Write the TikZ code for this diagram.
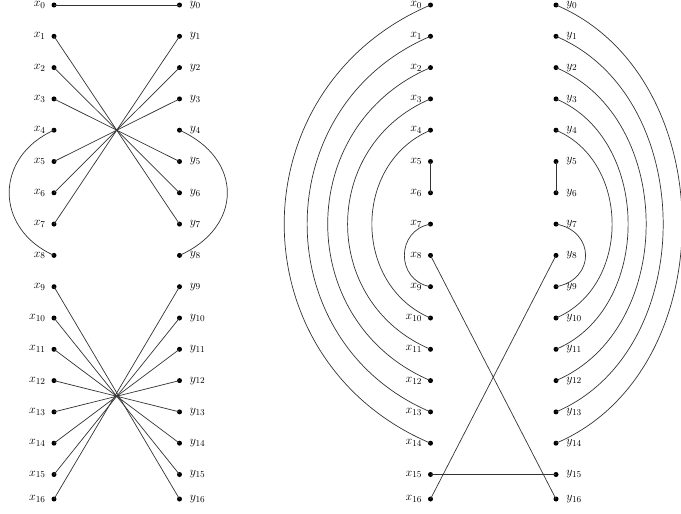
\documentclass[tikz,border=0pt]{standalone}
\begin{document}
\begin{tikzpicture}[x=1pt,y=-1pt,
  dot/.style={circle,fill=black,inner sep=0pt,minimum size=5pt},
  edge/.style={draw=black!80,line width=0.7pt},
  lbl/.style={font=\fontsize{13}{15}\selectfont,inner sep=2pt}]
\useasboundingbox (0,0) rectangle (681,514);

\foreach \i/\yy in {0/5,1/36.3,2/67.6,3/98.9,4/130.2,5/161.5,6/192.8,7/224.1,8/255.4,9/286.7,10/318,11/349.3,12/380.6,13/411.9,14/443.2,15/474.5,16/499}{
  \node[dot,label={[lbl,label distance=3.5pt]left:$x_{\i}$}] (lx\i) at (54,\yy) {};
  \node[dot,label={[lbl,label distance=5.5pt]right:$y_{\i}$}] (ly\i) at (179.5,\yy) {};
  \node[dot,label={[lbl,label distance=3.5pt]left:$x_{\i}$}] (rx\i) at (430.5,\yy) {};
  \node[dot,label={[lbl,label distance=5.5pt]right:$y_{\i}$}] (ry\i) at (556,\yy) {};
}

% left panel, top
\draw[edge] (lx0.center) -- (ly0.center);
\foreach \i/\j in {1/7,2/6,3/5,5/3,6/2,7/1}
  \draw[edge] (lx\i.center) -- (ly\j.center);
\draw[edge] (lx4.center) to[out=204,in=156,looseness=1.34] (lx8.center);
\draw[edge] (ly4.center) to[out=-24,in=24,looseness=1.43] (ly8.center);

% left panel, bottom
\foreach \i/\j in {9/16,10/15,11/14,12/13,13/12,14/11,15/10,16/9}
  \draw[edge] (lx\i.center) -- (ly\j.center);

% right panel
\foreach \i/\j/\l in {0/14/1.24,1/13/1.22,2/12/1.22,3/11/1.23,4/10/1.16}
  \draw[edge] (rx\i.center) to[out=203,in=157,looseness=\l] (rx\j.center);
\draw[edge] (rx7.center) to[out=190,in=170,looseness=1.45] (rx9.center);
\draw[edge] (rx5.center) -- (rx6.center);

\foreach \i/\j/\l in {0/14/1.07,1/13/1.06,2/12/1.07,3/11/1.07,4/10/1.11}
  \draw[edge] (ry\i.center) to[out=-23,in=23,looseness=\l] (ry\j.center);
\draw[edge] (ry7.center) to[out=-10,in=10,looseness=1.64] (ry9.center);
\draw[edge] (ry5.center) -- (ry6.center);

\draw[edge] (rx8.center) -- (ry16.center);
\draw[edge] (rx16.center) -- (ry8.center);
\draw[edge] (rx15.center) -- (ry15.center);
\end{tikzpicture}
\end{document}
